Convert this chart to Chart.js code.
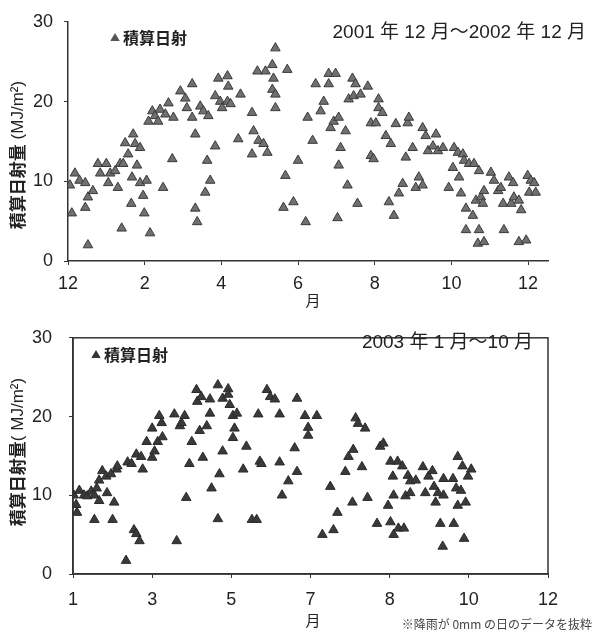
<!DOCTYPE html>
<html>
<head>
<meta charset="utf-8">
<script src="https://cdn.jsdelivr.net/npm/chart.js@4.4.1/dist/chart.umd.min.js"></script>
<style>
  body { margin: 0; background: #fff; }
  #wrap { position: relative; width: 598px; height: 634px; }
  #top-box { position: absolute; left: 0; top: 0; width: 598px; height: 310px; }
  #bottom-box { position: absolute; left: 0; top: 310px; width: 598px; height: 324px; }
</style>
</head>
<body>
<div id="wrap">
  <div id="top-box"><canvas id="chart-top"></canvas></div>
  <div id="bottom-box"><canvas id="chart-bottom"></canvas></div>
</div>
<script>
// 2001/12 - 2002/12 : months since Dec 2001, daily radiation (MJ/m2)
var topMonths = [0.1,0.05,0.18,0.3,0.45,0.52,0.45,0.65,0.52,0.78,0.84,1.0,1.1,1.05,1.23,1.36,1.3,1.4,1.44,1.49,
  1.57,1.67,1.65,1.7,1.75,1.8,1.88,1.88,1.96,1.99,2.05,2.14,2.1,2.2,2.27,2.35,2.4,2.54,2.62,2.75,
  2.72,2.48,2.93,3.06,3.1,3.24,3.24,3.32,3.32,3.37,3.45,3.53,3.66,3.58,3.63,3.71,3.84,3.84,3.97,3.92,
  4.16,4.18,4.02,4.16,4.24,4.5,4.44,4.8,4.84,4.8,4.94,4.97,5.1,5.15,5.2,5.33,5.36,5.33,5.41,5.41,
  5.41,5.72,5.67,5.62,5.88,6.0,6.2,6.25,6.38,6.46,6.59,6.67,6.8,6.8,6.98,6.85,6.93,7.06,7.11,7.06,
  7.03,7.24,7.29,7.32,7.42,7.5,7.45,7.55,7.63,7.82,7.9,8.03,7.9,7.97,8.1,8.1,8.2,8.29,8.37,8.42,
  8.5,8.55,8.63,8.73,8.81,8.86,8.89,8.99,9.07,9.15,9.25,9.25,9.33,9.39,9.52,9.6,9.65,9.78,9.93,10.04,
  10.07,10.17,10.2,10.25,10.3,10.33,10.38,10.38,10.46,10.56,10.59,10.64,10.69,10.72,10.72,10.77,10.82,10.85,10.85,11.03,
  11.11,11.22,11.29,11.35,11.37,11.5,11.56,11.61,11.63,11.76,11.82,11.76,11.95,11.99,12.07,12.16,12.03,12.2];
var topRadiation = [6.0,9.5,11.0,10.1,9.8,8.0,6.7,8.8,2.0,12.2,11.0,12.2,11.0,9.8,11.3,12.2,9.2,4.1,12.2,14.8,
  13.4,10.5,7.2,15.9,14.7,12.0,14.2,9.8,8.2,6.0,10.1,3.5,17.5,18.8,18.2,17.5,19.0,18.4,19.8,18.0,
  12.8,9.2,21.3,20.4,19.2,22.2,18.0,15.9,6.6,4.9,19.4,18.8,18.2,8.6,12.6,10.1,14.4,20.7,20.0,22.9,
  23.2,21.9,19.2,20.0,19.7,20.9,15.3,18.6,16.3,13.4,23.8,15.1,14.7,23.8,13.6,24.6,22.9,21.5,20.9,19.2,
  26.7,24.0,10.7,6.7,7.4,12.6,4.9,18.0,15.1,22.2,18.8,20.0,22.2,23.5,23.5,16.7,17.5,18.0,14.2,12.0,
  5.4,16.3,9.5,20.3,22.9,22.2,20.7,7.2,20.9,21.9,17.3,17.3,13.2,12.8,20.3,19.2,18.6,15.7,7.4,14.7,
  5.7,17.2,8.5,9.7,13.0,17.3,18.0,14.2,9.2,10.5,9.5,16.7,15.7,13.8,14.4,15.9,13.8,14.2,9.2,11.7,
  14.2,13.6,10.5,8.5,13.4,12.6,6.6,3.9,12.2,5.7,12.2,7.6,2.2,3.9,11.3,8.0,7.2,2.4,8.8,11.1,
  10.1,8.8,9.2,7.2,3.9,10.5,7.2,9.8,8.0,7.6,6.4,2.4,2.6,10.7,10.1,9.8,8.6,8.6];
var topTickLabels = ['12', '2', '4', '6', '8', '10', '12'];

// 2003/1 - 2003/10 : position along the axis (tick index), daily radiation (MJ/m2)
var bottomPos = [0.01,0.04,0.05,0.08,0.14,0.18,0.23,0.27,0.27,0.3,0.33,0.33,0.37,0.42,0.43,0.48,0.5,0.52,0.55,0.56,
  0.67,0.69,0.74,0.77,0.8,0.84,0.8,0.86,0.88,0.93,1.0,1.03,1.0,1.07,1.09,1.12,1.13,1.28,1.31,1.35,
  1.37,1.41,1.43,1.47,1.5,1.56,1.57,1.6,1.62,1.64,1.69,1.73,1.73,1.75,1.83,1.85,1.83,1.89,1.89,1.96,
  1.96,1.98,2.02,2.04,2.02,2.07,2.15,2.19,2.26,2.32,2.34,2.36,2.38,2.45,2.49,2.55,2.61,2.61,2.64,2.72,
  2.8,2.83,2.83,2.93,3.08,2.97,2.97,3.15,3.25,3.29,3.34,3.44,3.48,3.53,3.54,3.57,3.6,3.65,3.69,3.72,
  3.84,3.88,3.92,3.98,4.01,4.01,4.04,4.05,4.05,4.1,4.11,4.16,4.18,4.2,4.23,4.26,4.26,4.33,4.42,4.45,
  4.49,4.54,4.56,4.58,4.61,4.64,4.67,4.68,4.68,4.8,4.81,4.84,4.86,4.86,4.9,4.92,4.94,4.96,4.99,5.03];
var bottomRadiation = [10.0,8.8,7.8,10.6,10.0,9.9,10.5,10.0,6.9,10.9,11.9,9.3,13.1,12.4,10.3,12.7,6.9,9.1,13.3,13.7,
  1.7,14.2,14.0,5.6,5.1,4.2,15.2,14.9,13.3,16.8,14.8,15.6,18.5,16.8,20.1,19.2,17.4,20.3,4.2,18.8,
  19.2,20.1,9.7,14.0,16.8,23.4,21.9,18.2,22.5,14.8,18.8,22.2,20.4,10.9,24.0,12.7,7.0,15.6,22.3,23.5,
  22.8,21.5,20.1,18.5,17.3,20.4,13.3,16.2,6.9,6.9,20.3,14.3,14.0,23.4,22.5,22.2,14.2,20.3,10.0,11.8,
  16.0,13.0,22.3,20.1,20.1,18.6,17.6,5.0,11.1,5.6,7.8,13.0,14.9,9.1,15.8,19.8,19.1,13.6,18.5,9.7,
  6.4,16.2,16.6,8.7,14.3,6.6,12.4,5.0,10.0,14.3,5.8,13.7,5.8,9.9,12.5,10.3,11.8,11.9,13.6,10.3,
  12.4,13.1,11.1,9.1,10.3,6.4,3.5,10.0,12.1,12.1,6.4,10.9,8.7,14.9,10.6,13.7,4.5,9.1,12.4,13.3];
var bottomTickLabels = ['1', '3', '5', '7', '8', '10', '12'];

var numFont = '"Liberation Sans Narrow", "Liberation Sans", Arial, sans-serif';
var jpFont = '"Noto Sans CJK JP", sans-serif';

function toPoints(xs, ys) {
    var pts = [];
    for (var i = 0; i < xs.length; i++) {
        pts.push({x: xs[i], y: ys[i]});
    }
    return pts;
}

function drawTriangle(ctx, x, y, r, fill) {
    ctx.beginPath();
    ctx.moveTo(x, y - r);
    ctx.lineTo(x + r * 0.95, y + r * 0.6);
    ctx.lineTo(x - r * 0.95, y + r * 0.6);
    ctx.closePath();
    ctx.fillStyle = fill;
    ctx.fill();
}

// texts put on top of each chart: legend, title, axis titles
function notesPlugin(cfg) {
    return {
        id: 'notes',
        afterDraw: function (chart) {
            var ctx = chart.ctx;
            var area = chart.chartArea;
            ctx.save();
            if (cfg.box) {
                ctx.strokeStyle = '#333';
                ctx.lineWidth = 1.5;
                ctx.strokeRect(area.left, area.top, area.right - area.left, area.bottom - area.top);
            }
            // legend
            drawTriangle(ctx, cfg.legendX, cfg.legendY, 5, cfg.legendColor);
            ctx.fillStyle = '#222';
            ctx.font = 'bold 16px ' + jpFont;
            ctx.textBaseline = 'middle';
            ctx.textAlign = 'left';
            ctx.fillText('積算日射', cfg.legendX + 8, cfg.legendY);
            // title
            ctx.font = '19px ' + numFont + ', ' + jpFont;
            ctx.textAlign = 'right';
            ctx.fillText(cfg.title, cfg.titleRight, cfg.titleY);
            // x axis title
            ctx.font = '15px ' + jpFont;
            ctx.textAlign = 'center';
            ctx.fillText('月', cfg.monthX, cfg.monthY);
            // y axis title: bold kanji, then the unit
            ctx.translate(cfg.yTitleX, cfg.yTitleY);
            ctx.rotate(-Math.PI / 2);
            var kanjiFont = 'bold 17px ' + jpFont;
            var unitFont = '17px "Liberation Sans", Arial, sans-serif';
            ctx.font = kanjiFont;
            var w1 = ctx.measureText('積算日射量').width;
            ctx.font = unitFont;
            var w2 = ctx.measureText(cfg.yUnit).width;
            var start = -(w1 + w2) / 2;
            ctx.textAlign = 'left';
            ctx.font = kanjiFont;
            ctx.fillText('積算日射量', start, 0);
            ctx.font = unitFont;
            ctx.fillText(cfg.yUnit, start + w1, 0);
            ctx.restore();
            if (cfg.note) {
                ctx.save();
                ctx.font = '12px ' + jpFont;
                ctx.fillStyle = '#444';
                ctx.textAlign = 'right';
                ctx.textBaseline = 'middle';
                ctx.fillText(cfg.note, 592, chart.height - 10);
                ctx.restore();
            }
        }
    };
}

function makeChart(id, opts) {
    var ctx = document.getElementById(id).getContext('2d');
    return new Chart(ctx, {
        type: 'scatter',
        data: {
            datasets: [{
                label: '積算日射',
                data: toPoints(opts.xs, opts.ys),
                pointStyle: 'triangle',
                pointRadius: opts.radius,
                backgroundColor: opts.fill,
                borderColor: opts.border,
                borderWidth: 1
            }]
        },
        options: {
            responsive: true,
            maintainAspectRatio: false,
            animation: false,
            layout: {
                padding: {left: 0, top: opts.padTop, right: 50, bottom: 0}
            },
            plugins: {
                legend: {display: false},
                tooltip: {enabled: false}
            },
            scales: {
                x: {
                    type: 'linear',
                    min: 0,
                    max: opts.xMax,
                    afterFit: function (scale) { scale.height = opts.xHeight; },
                    afterBuildTicks: function (scale) {
                        scale.ticks = opts.tickLabels.map(function (l, i) {
                            return {value: i * opts.xStep};
                        });
                    },
                    grid: {drawOnChartArea: false, tickLength: 4, color: '#333'},
                    border: {color: '#333', width: 1.5},
                    ticks: {
                        padding: opts.xPad,
                        color: '#222',
                        font: {family: numFont, size: 18},
                        maxRotation: 0,
                        callback: function (v) {
                            return opts.tickLabels[Math.round(v / opts.xStep)];
                        }
                    }
                },
                y: {
                    min: 0,
                    max: 30,
                    afterFit: function (scale) { scale.width = opts.yWidth; },
                    grid: {drawOnChartArea: false, tickLength: 4, color: '#333'},
                    border: {color: '#333', width: 1.5},
                    ticks: {
                        stepSize: 10,
                        padding: opts.yPad,
                        color: '#222',
                        font: {family: numFont, size: 18}
                    }
                }
            }
        },
        plugins: [notesPlugin(opts.notes)]
    });
}

makeChart('chart-top', {
    xs: topMonths, ys: topRadiation, tickLabels: topTickLabels,
    xMax: 12.52, xStep: 2, padTop: 20, xHeight: 49, yWidth: 68, xPad: 8, yPad: 11,
    radius: 5.5, fill: '#707070', border: '#3a3a3a',
    notes: {
        box: false, legendX: 115, legendY: 38, legendColor: '#555',
        title: '2001 年 12 月～2002 年 12 月', titleRight: 586, titleY: 33,
        monthX: 313, monthY: 300, yTitleX: 18, yTitleY: 155, yUnit: ' (MJ/m²)'
    }
});

makeChart('chart-bottom', {
    xs: bottomPos, ys: bottomRadiation, tickLabels: bottomTickLabels,
    xMax: 6, xStep: 1, padTop: 19, xHeight: 60, yWidth: 73, xPad: 11, yPad: 17,
    radius: 5.5, fill: '#3a3a3a', border: '#2a2a2a',
    notes: {
        box: true, legendX: 96, legendY: 45, legendColor: '#333',
        title: '2003 年 1 月～10 月', titleRight: 533, titleY: 33,
        monthX: 313, monthY: 310, yTitleX: 18, yTitleY: 142, yUnit: '( MJ/m²)',
        note: '※降雨が 0mm の日のデータを抜粋'
    }
});
</script>
</body>
</html>
